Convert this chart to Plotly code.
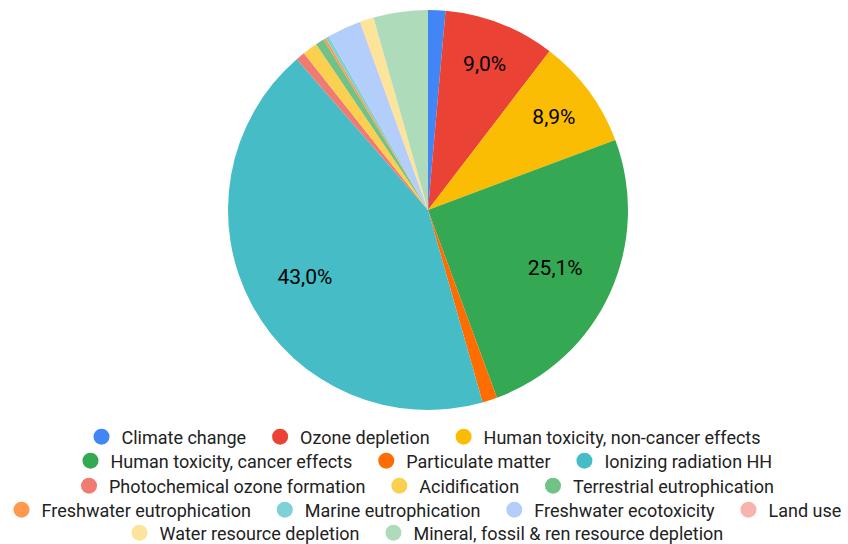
import plotly.graph_objects as go

categories = [
    "Climate change", "Ozone depletion", "Human toxicity, non-cancer effects",
    "Human toxicity, cancer effects", "Particulate matter", "Ionizing radiation HH",
    "Photochemical ozone formation", "Acidification", "Terrestrial eutrophication",
    "Freshwater eutrophication", "Marine eutrophication", "Freshwater ecotoxicity",
    "Land use", "Water resource depletion", "Mineral, fossil & ren resource depletion",
]
values = [1.4, 9.0, 8.9, 25.1, 1.2, 43.0, 0.75, 1.2, 0.7, 0.2, 0.3, 2.7, 0.05, 1.1, 4.4]
colors = ["#4285f4", "#ea4335", "#fbbc04", "#34a853", "#ff6d01", "#46bdc6",
          "#f07b72", "#fcd04f", "#71c287", "#ff994d", "#7ed1d7", "#b3cefb",
          "#f7b4ae", "#fde49b", "#aedcba"]
legend_rows = [[0, 1, 2], [3, 4, 5], [6, 7, 8], [9, 10, 11, 12], [13, 14]]

total = sum(values)
texts = [(f"{v / total * 100:.1f}".replace(".", ",") + "%") if v / total > 0.05 else ""
         for v in values]

W, H = 848, 544
FONT = "Roboto, Arial"
LABEL_SIZE = 21
domain = dict(x=[228 / W, 628 / W], y=[1 - 410 / H, 1 - 10 / H])
fig = go.Figure()
# the pie slices
fig.add_trace(go.Pie(
    labels=categories, values=values, sort=False, direction="clockwise", rotation=0,
    marker=dict(colors=colors, line=dict(width=0)),
    textinfo="none", domain=domain,
    hoverinfo="label+percent", showlegend=False,
))
# transparent ring carrying the percentage labels (places them at ~0.7 r)
fig.add_trace(go.Pie(
    labels=categories, values=values, sort=False, direction="clockwise", rotation=0,
    hole=0.4,
    marker=dict(colors=["rgba(0,0,0,0)"] * len(values), line=dict(width=0)),
    text=texts, textinfo="text", textposition="inside", insidetextorientation="horizontal",
    textfont=dict(family=FONT, size=LABEL_SIZE, color="#000000"),
    domain=domain, hoverinfo="skip", showlegend=False,
))

row_y = [437, 461, 486, 510, 533]
layout_legends = {}
for r, idxs in enumerate(legend_rows):
    key = "legend" if r == 0 else f"legend{r + 1}"
    for j, i in enumerate(idxs):
        pad = "\u00a0\u00a0" if j < len(idxs) - 1 else ""
        fig.add_trace(go.Scatter(
            x=[None], y=[None], mode="markers", name=categories[i] + pad,
            marker=dict(symbol="circle", size=18, color=colors[i]),
            legend=key, showlegend=True, hoverinfo="skip",
        ))
    layout_legends[key] = dict(
        orientation="h", x=0.5, xanchor="center", y=1 - row_y[r] / H, yanchor="middle",
        font=dict(family=FONT, size=18, color="#222222"), bgcolor="rgba(0,0,0,0)",
        itemclick=False, itemdoubleclick=False,
    )

fig.update_layout(
    width=W, height=H, paper_bgcolor="white", plot_bgcolor="white",
    margin=dict(l=0, r=0, t=0, b=0, autoexpand=False),
    font=dict(family=FONT, size=18, color="#222222"),
    xaxis=dict(visible=False), yaxis=dict(visible=False),
    uniformtext=dict(minsize=LABEL_SIZE, mode="show"),
    showlegend=True,
    **layout_legends,
)
fig.write_html("out.html", config={"displayModeBar": False},
               post_script="document.body.style.margin='0';")
